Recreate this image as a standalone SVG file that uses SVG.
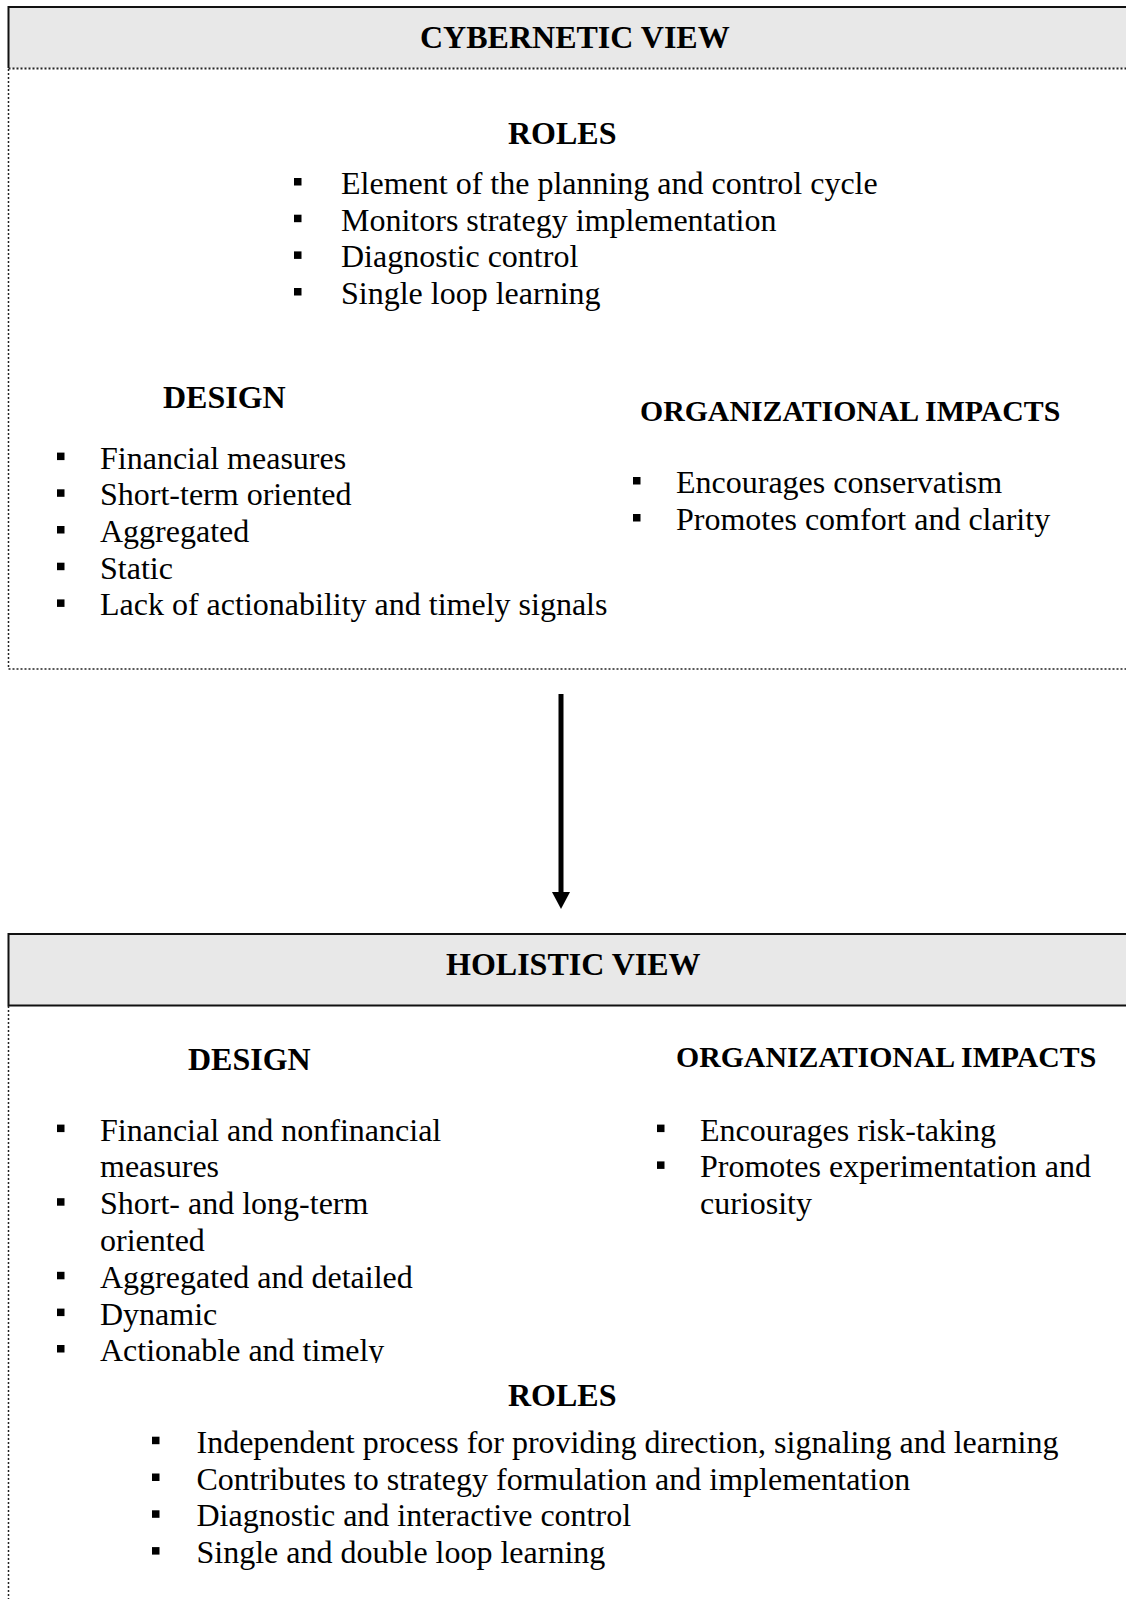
<svg xmlns="http://www.w3.org/2000/svg" width="1126" height="1599" viewBox="0 0 1126 1599">
<style>
  .hdr { fill: #e8e8e8; stroke: none; }
  .solid { stroke: #111; stroke-width: 2; fill: none; }
  .dot { stroke: #222; stroke-width: 1.5; stroke-dasharray: 2 2; fill: none; }
  .t { font-family: "Liberation Serif", "Times New Roman", serif; font-size: 32px; fill: #000; }
  .h { font-family: "Liberation Serif", "Times New Roman", serif; font-size: 32px; font-weight: bold; fill: #000; }
  .hs { font-family: "Liberation Serif", "Times New Roman", serif; font-size: 29.8px; font-weight: bold; fill: #000; }
  .b { fill: #000; }
</style>
<defs>
  <rect id="bul" class="b" x="0" y="-16" width="7.5" height="7.5"/>
  <marker id="arr" markerUnits="userSpaceOnUse" markerWidth="18" markerHeight="18" refX="0" refY="9" orient="auto">
    <polygon points="0,0 17,9 0,18" fill="#000"/>
  </marker>
  <clipPath id="clipDesign2"><rect x="0" y="1000" width="640" height="363"/></clipPath>
</defs>

<g id="cybernetic-view">
  <rect class="hdr" x="8.5" y="7" width="1130" height="61"/>
  <path class="solid" d="M1130,7 H8.5 V68"/>
  <line class="dot" x1="8.5" y1="68.5" x2="1126" y2="68.5" style="stroke-width:2"/>
  <line class="dot" x1="8.5" y1="69" x2="8.5" y2="669"/>
  <line class="dot" x1="8.5" y1="669" x2="1126" y2="669"/>
  <text class="h" x="420" y="48">CYBERNETIC VIEW</text>

  <g id="cyb-roles">
    <text class="h" x="508" y="144">ROLES</text>
    <use href="#bul" x="294" y="194"/><text class="t" x="341" y="194">Element of the planning and control cycle</text>
    <use href="#bul" x="294" y="230.7"/><text class="t" x="341" y="230.7">Monitors strategy implementation</text>
    <use href="#bul" x="294" y="267.4"/><text class="t" x="341" y="267.4">Diagnostic control</text>
    <use href="#bul" x="294" y="304"/><text class="t" x="341" y="304">Single loop learning</text>
  </g>

  <g id="cyb-design">
    <text class="h" x="163" y="408">DESIGN</text>
    <use href="#bul" x="57" y="468.6"/><text class="t" x="100" y="468.6">Financial measures</text>
    <use href="#bul" x="57" y="505.3"/><text class="t" x="100" y="505.3">Short-term oriented</text>
    <use href="#bul" x="57" y="542"/><text class="t" x="100" y="542">Aggregated</text>
    <use href="#bul" x="57" y="578.7"/><text class="t" x="100" y="578.7">Static</text>
    <use href="#bul" x="57" y="615.4"/><text class="t" x="100" y="615.4">Lack of actionability and timely signals</text>
  </g>

  <g id="cyb-impacts">
    <text class="hs" x="640" y="420.5">ORGANIZATIONAL IMPACTS</text>
    <use href="#bul" x="633" y="493"/><text class="t" x="676" y="493">Encourages conservatism</text>
    <use href="#bul" x="633" y="530"/><text class="t" x="676" y="530">Promotes comfort and clarity</text>
  </g>
</g>

<g id="connectors">
  <line x1="561" y1="694" x2="561" y2="892" stroke="#000" stroke-width="5" marker-end="url(#arr)"/>
</g>

<g id="holistic-view">
  <rect class="hdr" x="8.5" y="934" width="1130" height="71"/>
  <path class="solid" d="M1130,934 H8.5 V1005.5 H1130"/>
  <line class="dot" x1="8.5" y1="1006" x2="8.5" y2="1599"/>
  <text class="h" x="446" y="974.5">HOLISTIC VIEW</text>

  <g id="hol-design" clip-path="url(#clipDesign2)">
    <text class="h" x="188" y="1069.5">DESIGN</text>
    <use href="#bul" x="57" y="1140.6"/><text class="t" x="100" y="1140.6">Financial and nonfinancial</text>
    <text class="t" x="100" y="1177.4">measures</text>
    <use href="#bul" x="57" y="1214.2"/><text class="t" x="100" y="1214.2">Short- and long-term</text>
    <text class="t" x="100" y="1251">oriented</text>
    <use href="#bul" x="57" y="1287.8"/><text class="t" x="100" y="1287.8">Aggregated and detailed</text>
    <use href="#bul" x="57" y="1324.6"/><text class="t" x="100" y="1324.6">Dynamic</text>
    <use href="#bul" x="57" y="1361"/><text class="t" x="100" y="1361">Actionable and timely</text>
  </g>

  <g id="hol-impacts">
    <text class="hs" x="676" y="1066.5">ORGANIZATIONAL IMPACTS</text>
    <use href="#bul" x="657" y="1140.6"/><text class="t" x="700" y="1140.6">Encourages risk-taking</text>
    <use href="#bul" x="657" y="1177.4"/><text class="t" x="700" y="1177.4">Promotes experimentation and</text>
    <text class="t" x="700" y="1214.2">curiosity</text>
  </g>

  <g id="hol-roles">
    <text class="h" x="508" y="1405.5">ROLES</text>
    <use href="#bul" x="152" y="1452.7"/><text class="t" x="196.5" y="1452.7">Independent process for providing direction, signaling and learning</text>
    <use href="#bul" x="152" y="1489.5"/><text class="t" x="196.5" y="1489.5">Contributes to strategy formulation and implementation</text>
    <use href="#bul" x="152" y="1526.3"/><text class="t" x="196.5" y="1526.3">Diagnostic and interactive control</text>
    <use href="#bul" x="152" y="1563.1"/><text class="t" x="196.5" y="1563.1">Single and double loop learning</text>
  </g>
</g>
</svg>
